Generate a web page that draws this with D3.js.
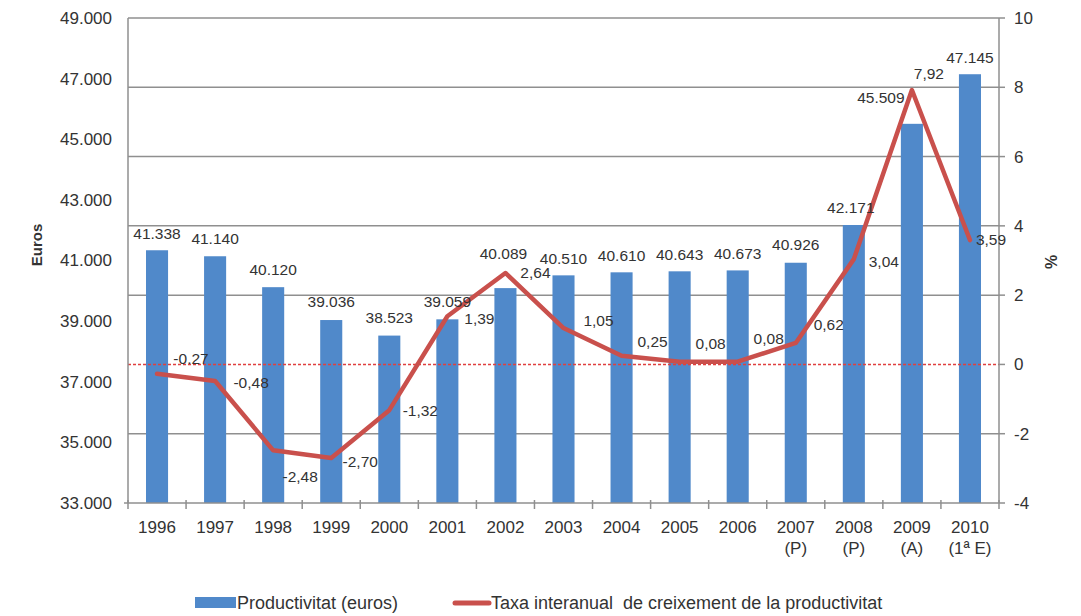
<!DOCTYPE html>
<html>
<head>
<meta charset="utf-8">
<script src="https://cdn.jsdelivr.net/npm/d3@7"></script>
<style>
  body { margin: 0; background: #fff; }
  text { font-family: "Liberation Sans", Arial, sans-serif; fill: #333; }
</style>
</head>
<body>
<svg width="1081" height="616"></svg>
<script>
// data
var years = ["1996", "1997", "1998", "1999", "2000", "2001", "2002", "2003", "2004", "2005", "2006", "2007", "2008", "2009", "2010"];
var yearNotes = ["", "", "", "", "", "", "", "", "", "", "", "(P)", "(P)", "(A)", "(1ª E)"];
var productivitat = [41338, 41140, 40120, 39036, 38523, 39059, 40089, 40510, 40610, 40643, 40673, 40926, 42171, 45509, 47145];
var taxa = [-0.27, -0.48, -2.48, -2.70, -1.32, 1.39, 2.64, 1.05, 0.25, 0.08, 0.08, 0.62, 3.04, 7.92, 3.59];
var taxaLabels = ["-0.27", "-0,48", "-2,48", "-2,70", "-1,32", "1,39", "2,64", "1,05", "0,25", "0,08", "0,08", "0,62", "3,04", "7,92", "3,59"];
var leftTicks = [33000, 35000, 37000, 39000, 41000, 43000, 45000, 47000, 49000];
var rightTicks = [-4, -2, 0, 2, 4, 6, 8, 10];

// label nudges (layout only)
var barLabelDx = [0, 0, 0, 0, 0, 0, -2, 0, 0, 0, 0, 0, -3, -31, 0];
var barLabelDy = [-17, -18, -18, -18, -18, -18, -35, -17, -17, -17, -17, -18, -17, -26, -17];
var lineLabelDx = [34, 36, 27, 29, 31, 32, 30, 35, 31, 31, 31, 33, 30, 17, 21];
var lineLabelDy = [-15, 2, 26, 4, 0, 2, 0, -7, -14, -18, -23, -18, 2, -16, 0];

var svg = d3.select("svg");
var plotLeft = 128, plotRight = 999, plotTop = 18, plotBottom = 503;
var axisColor = "#8f8f8f";

var x = d3.scaleBand().domain(years).range([plotLeft, plotRight]).paddingInner(0.62).paddingOuter(0.31);
var yL = d3.scaleLinear().domain([33000, 49000]).range([plotBottom, plotTop]);
var yR = d3.scaleLinear().domain([-4, 10]).range([plotBottom, plotTop]);

var fmtEuro = function(d) { return d3.format(",")(d).replace(/,/g, "."); };

// gridlines (follow right axis)
svg.append("g").selectAll("line")
   .data(rightTicks.filter(function(d) { return d !== -4 && d !== 0; }))
   .enter().append("line")
   .attr("x1", plotLeft).attr("x2", plotRight)
   .attr("y1", function(d) { return yR(d); })
   .attr("y2", function(d) { return yR(d); })
   .attr("stroke", axisColor).attr("stroke-width", 1.5);

// bars
svg.append("g").selectAll("rect")
   .data(productivitat)
   .enter().append("rect")
   .attr("x", function(d, i) { return x(years[i]); })
   .attr("y", function(d) { return yL(d); })
   .attr("width", x.bandwidth())
   .attr("height", function(d) { return plotBottom - yL(d); })
   .attr("fill", "#5089ca");

// zero line
svg.append("line")
   .attr("x1", plotLeft).attr("x2", plotRight)
   .attr("y1", yR(0)).attr("y2", yR(0))
   .attr("stroke", "#e0403f").attr("stroke-width", 1.5)
   .attr("stroke-dasharray", "3,2");

// axes lines
svg.append("line").attr("x1", plotLeft).attr("x2", plotLeft).attr("y1", plotTop).attr("y2", plotBottom)
   .attr("stroke", axisColor).attr("stroke-width", 1.5);
svg.append("line").attr("x1", plotRight).attr("x2", plotRight).attr("y1", plotTop).attr("y2", plotBottom)
   .attr("stroke", axisColor).attr("stroke-width", 1.5);
svg.append("line").attr("x1", plotLeft - 4).attr("x2", plotRight).attr("y1", plotBottom).attr("y2", plotBottom)
   .attr("stroke", axisColor).attr("stroke-width", 1.5);

// x tick marks between categories
svg.append("g").selectAll("line")
   .data(d3.range(years.length + 1))
   .enter().append("line")
   .attr("x1", function(i) { return plotLeft + x.step() * i; })
   .attr("x2", function(i) { return plotLeft + x.step() * i; })
   .attr("y1", plotBottom - 3).attr("y2", plotBottom + 6)
   .attr("stroke", axisColor).attr("stroke-width", 1.5);

// right ticks
svg.append("g").selectAll("line")
   .data(rightTicks)
   .enter().append("line")
   .attr("x1", plotRight).attr("x2", plotRight + 6)
   .attr("y1", function(d) { return yR(d); })
   .attr("y2", function(d) { return yR(d); })
   .attr("stroke", axisColor).attr("stroke-width", 1.5);

// left tick labels
svg.append("g").selectAll("text")
   .data(leftTicks)
   .enter().append("text")
   .attr("x", 112)
   .attr("y", function(d) { return yL(d); })
   .attr("dy", "0.35em")
   .attr("text-anchor", "end")
   .attr("font-size", "17px")
   .text(fmtEuro);

// right tick labels
svg.append("g").selectAll("text")
   .data(rightTicks)
   .enter().append("text")
   .attr("x", 1014)
   .attr("y", function(d) { return yR(d); })
   .attr("dy", "0.35em")
   .attr("font-size", "17px")
   .text(function(d) { return d; });

// x labels
var xl = svg.append("g").selectAll("text")
   .data(years)
   .enter().append("text")
   .attr("x", function(d) { return x(d) + x.bandwidth() / 2; })
   .attr("y", 533)
   .attr("text-anchor", "middle")
   .attr("font-size", "17px");
xl.append("tspan").text(function(d) { return d; });
xl.append("tspan")
  .attr("x", function(d) { return x(d) + x.bandwidth() / 2; })
  .attr("dy", 21)
  .text(function(d, i) { return yearNotes[i]; });

// axis titles
svg.append("text")
   .attr("transform", "translate(42,245) rotate(-90)")
   .attr("text-anchor", "middle")
   .attr("font-size", "15px").attr("font-weight", "bold")
   .text("Euros");
svg.append("text")
   .attr("transform", "translate(1057,262) rotate(-90)")
   .attr("text-anchor", "middle")
   .attr("font-size", "16px").attr("font-weight", "bold")
   .text("%");

// line
var line = d3.line()
   .x(function(d, i) { return x(years[i]) + x.bandwidth() / 2; })
   .y(function(d) { return yR(d); });
svg.append("path")
   .datum(taxa)
   .attr("d", line)
   .attr("fill", "none")
   .attr("stroke", "#c9504c")
   .attr("stroke-width", 4.5)
   .attr("stroke-linejoin", "round")
   .attr("stroke-linecap", "round");

// bar labels
svg.append("g").selectAll("text")
   .data(productivitat)
   .enter().append("text")
   .attr("x", function(d, i) { return x(years[i]) + x.bandwidth() / 2 + barLabelDx[i]; })
   .attr("y", function(d, i) { return yL(d) + barLabelDy[i]; })
   .attr("dy", "0.35em")
   .attr("text-anchor", "middle")
   .attr("font-size", "15.5px")
   .text(fmtEuro);

// line labels
svg.append("g").selectAll("text")
   .data(taxa)
   .enter().append("text")
   .attr("x", function(d, i) { return x(years[i]) + x.bandwidth() / 2 + lineLabelDx[i]; })
   .attr("y", function(d, i) { return yR(d) + lineLabelDy[i]; })
   .attr("dy", "0.35em")
   .attr("text-anchor", "middle")
   .attr("font-size", "15.5px")
   .text(function(d, i) { return taxaLabels[i]; });

// legend
var lg = svg.append("g");
lg.append("rect").attr("x", 195).attr("y", 597).attr("width", 41).attr("height", 11).attr("fill", "#5089ca");
lg.append("text").attr("x", 237).attr("y", 603).attr("dy", "0.35em").attr("font-size", "18px")
  .text("Productivitat (euros)");
lg.append("line").attr("x1", 455).attr("x2", 489).attr("y1", 603).attr("y2", 603)
  .attr("stroke", "#c9504c").attr("stroke-width", 5).attr("stroke-linecap", "round");
lg.append("text").attr("x", 491).attr("y", 603).attr("dy", "0.35em").attr("font-size", "18px")
  .attr("xml:space", "preserve")
  .text("Taxa interanual  de creixement de la productivitat");
</script>
</body>
</html>
